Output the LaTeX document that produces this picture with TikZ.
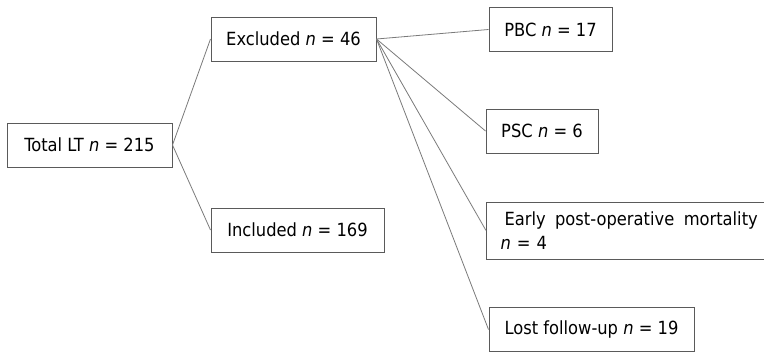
\documentclass[tikz,border=0pt]{standalone}
\usepackage{fontspec}
\setmainfont{DejaVu Sans Condensed}
\usepackage{xcolor}
\usetikzlibrary{positioning}

\definecolor{boxline}{HTML}{5A5A5A}
\definecolor{linkline}{HTML}{7A7A7A}

\begin{document}
\begin{tikzpicture}[
      x=0.75pt, y=-0.75pt,
      box/.style={
        rectangle,
        draw=boxline,
        line width=0.75pt,
        minimum height=33pt,
        inner sep=0pt,
        align=center,
        font=\fontsize{13.6}{18}\selectfont
      },
      every edge/.style={draw=linkline, line width=0.6pt}
    ]
    \useasboundingbox (0,0) rectangle (764,354);

    \node[box, minimum width=123.75pt] (total) at (89.5,145) {Total LT \textit{n} = 215};
    \node[box, minimum width=123.75pt] (excl) at (293.5,39) {Excluded \textit{n} = 46};
    \node[box, minimum width=129.75pt] (incl) at (297.5,230) {Included \textit{n} = 169};

    \node[box, minimum width=92.25pt] (pbc) at (550.5,29.5) {PBC \textit{n} = 17};
    \node[box, minimum width=84pt] (psc) at (542,131) {PSC \textit{n} = 6};
    \node[box, anchor=west, minimum height=42.75pt, inner xsep=10.5pt,
          align=left, text width=193pt] (early) at (486,230.5)
          {\hspace*{3pt}Early\hfill post-operative\hfill mortality\\\textit{n} = 4};
    \node[box, minimum width=153.75pt] (lost) at (591.5,329.5) {Lost follow-up \textit{n} = 19};

    \path (total.east) edge (excl.west)
          (total.east) edge (incl.west)
          (excl.east) edge (pbc.west)
          (excl.east) edge (psc.west)
          (excl.east) edge (early.west)
          (excl.east) edge (lost.west);
  \end{tikzpicture}
\end{document}
